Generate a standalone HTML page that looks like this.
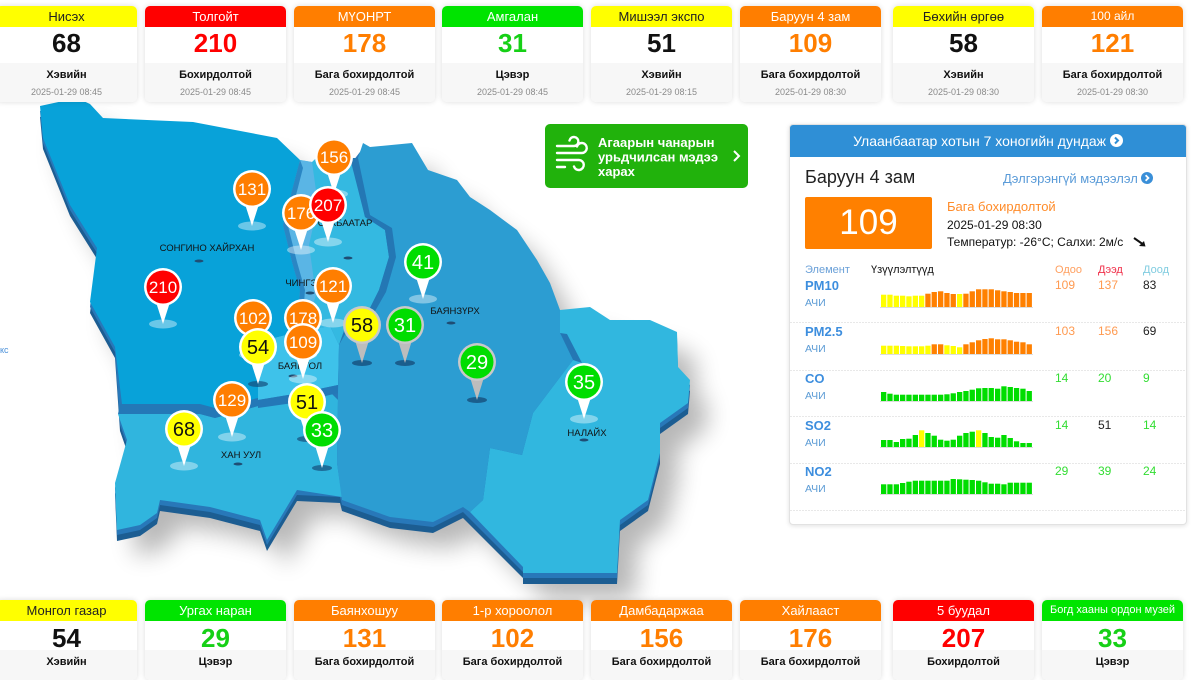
<!DOCTYPE html>
<html><head><meta charset="utf-8">
<style>
*{margin:0;padding:0;box-sizing:border-box}
html,body{width:1200px;height:671px;overflow:hidden;background:#fff;font-family:"Liberation Sans","DejaVu Sans",sans-serif}
.c{position:absolute;width:141px;background:#fff;border-radius:5px;box-shadow:0 0 6px rgba(0,0,0,.14);overflow:hidden}
.c .h{position:absolute;left:0;right:0;top:0;height:21px;line-height:21px;text-align:center;font-size:13px;color:#fff;white-space:nowrap;overflow:hidden}
.c .n{position:absolute;left:0;right:0;text-align:center;font-weight:bold;font-size:26px;line-height:30px}
.c .g{position:absolute;left:0;right:0;bottom:0;background:#f7f7f7}
.c .s{position:absolute;left:0;right:0;text-align:center;font-weight:bold;font-size:11px;line-height:13px;color:#111}
.c .d{position:absolute;left:0;right:0;text-align:center;font-size:9px;line-height:11px;color:#8a8a8a}
.t{top:6px;height:96px}
.t .n{top:22px}.t .g{top:57px}.t .s{top:63px}.t .d{top:81px}
.bt{top:600px;height:80px}
.bt .n{top:23px}.bt .g{top:50px}.bt .s{top:56px}
.Y .h{background:#ffff00;color:#222}.R .h{background:#ff0000}.O .h{background:#ff7e00}.G .h{background:#00e400}
.Y .n{color:#111}.R .n{color:#ff0000}.O .n{color:#ff7e00}.G .n{color:#16d016}
#panel{position:absolute;left:789px;top:124px;width:398px;height:401px;background:#fff;border:1px solid #e2e2e2;border-radius:4px;box-shadow:0 1px 5px rgba(0,0,0,.12);overflow:hidden}
#ph{position:absolute;left:0;top:0;width:100%;height:32px;background:#2f8fd6;color:#fff;font-size:14px;line-height:32px;text-align:center}
.ab{position:absolute;white-space:nowrap}
</style></head><body>

<svg width="1200" height="671" style="position:absolute;left:0;top:0" xmlns="http://www.w3.org/2000/svg">
<defs>
<polygon id="out" points="40,106 77,98 90,104 103,118 193,122 277,138 300,160 312,162 330,145 350,160 363,143 370,147 412,143 428,170 457,180 470,197 490,210 517,230 537,260 550,283 560,310 590,307 610,320 650,320 677,332 678,367 690,380 688,403 660,423 660,453 648,500 620,520 617,573 523,573 523,567 463,507 433,522 390,517 342,500 340,492 297,490 267,540 260,520 210,507 160,500 157,513 140,525 117,530 115,483 127,440 120,420 115,347 90,302 97,248 70,205 43,138"/>
<filter id="blur" x="-20%" y="-20%" width="150%" height="150%"><feGaussianBlur stdDeviation="12"/></filter>
</defs>
<text x="0" y="353" font-size="9" fill="#4a90d9">кс</text>
<use href="#out" transform="translate(18,26)" fill="#000" opacity=".28" filter="url(#blur)"/>
<use href="#out" transform="translate(0,11)" fill="#1c5d92"/>
<use href="#out" transform="translate(0,5)" fill="#2878b9"/>
<!-- Nalaikh -->
<polygon fill="#31b7df" points="560,310 590,307 610,320 650,320 677,332 678,367 690,380 688,403 660,423 660,453 648,500 620,520 617,573 523,573 523,567 470,512 483,500 490,448 522,455 533,413 573,360 560,333"/>
<!-- Khan-Uul -->
<polygon fill="#30b5de" points="118,414 200,414 215,418 258,406 300,400 330,392 338,400 337,463 342,497 297,490 267,540 260,520 210,507 160,500 157,513 140,525 117,530 115,483 127,440 120,420"/>
<!-- Sukhbaatar strip -->
<polygon fill="#34b9e1" points="300,160 312,162 330,145 352,158 365,217 385,230 389,257 379,290 369,310 349,317 339,345 330,326 297,332 300,290 292,262 283,225"/>
<polygon fill="#5ab5e5" points="300,160 312,162 318,205 309,245 316,295 306,326 297,332 300,290 292,262 283,225"/>
<!-- Bayangol -->
<polygon fill="#3ec2ea" points="258,342 297,332 330,326 339,345 338,385 300,393 258,400"/>
<polygon fill="#2478b7" points="258,400 300,393 338,385 338,393 300,402 258,408"/>
<!-- SH -->
<polygon fill="#2478b7" points="120,404 200,404 215,408 258,398 258,406 215,418 200,414 118,414"/>
<polygon fill="#08a2d9" points="40,106 77,98 90,104 103,118 193,122 277,138 300,160 283,225 292,262 300,290 297,332 258,342 258,398 215,408 200,404 122,404 115,347 90,302 97,248 70,205 43,138"/>
<polygon fill="#2a86c4" points="300,160 303,168 288,226 297,262 305,290 302,330 297,332 300,290 292,262 283,225"/>
<!-- Bayanzurkh wall + face -->
<polygon fill="#2477b4" points="350,158 360,158 370,215 392,228 396,257 386,292 374,313 352,322 339,345 349,317 369,310 379,290 389,257 385,230 365,217"/>
<polygon fill="#2477b4" points="560,333 573,360 582,363 567,334"/>
<polygon fill="#2c9dd2" points="358,158 363,143 370,147 412,143 428,170 457,180 470,197 490,210 517,230 537,260 550,283 560,310 560,333 573,360 533,413 522,455 490,448 483,500 470,512 463,507 433,522 390,517 342,500 337,463 338,392 339,345 352,322 374,313 386,292 396,257 392,228 370,215"/>

<!-- labels -->
<g font-size="9.5" fill="#111" text-anchor="middle">
<text x="207" y="251">СОНГИНО ХАЙРХАН</text>
<text x="345" y="226">СҮХБААТАР</text>
<text x="314" y="286">ЧИНГЭЛТЭЙ</text>
<text x="455" y="314">БАЯНЗҮРХ</text>
<text x="300" y="369">БАЯНГОЛ</text>
<text x="241" y="458">ХАН УУЛ</text>
<text x="587" y="436">НАЛАЙХ</text>
</g>
<g fill="#1f4d74">
<ellipse cx="199" cy="261" rx="4.5" ry="1.5"/><ellipse cx="348" cy="258" rx="4.5" ry="1.5"/>
<ellipse cx="310" cy="293" rx="4.5" ry="1.5"/><ellipse cx="451" cy="323" rx="4.5" ry="1.5"/>
<ellipse cx="293" cy="376" rx="4.5" ry="1.5"/><ellipse cx="238" cy="464" rx="4.5" ry="1.5"/>
<ellipse cx="584" cy="440" rx="4.5" ry="1.5"/>
</g>

<!-- pins -->
<g font-family="Liberation Sans, sans-serif" text-anchor="middle">
<g transform="translate(334,157)"><ellipse cy="37" rx="14" ry="4.5" fill="#fff" opacity=".4"/><path d="M-8 12L0 37L8 12Z" fill="#fff"/><circle r="19" fill="#fff"/><circle r="16.5" fill="#ff7e00"/><text y="6" font-size="17" fill="#fff">156</text></g>
<g transform="translate(252,189)"><ellipse cy="37" rx="14" ry="4.5" fill="#fff" opacity=".4"/><path d="M-8 12L0 37L8 12Z" fill="#fff"/><circle r="19" fill="#fff"/><circle r="16.5" fill="#ff7e00"/><text y="6" font-size="17" fill="#fff">131</text></g>
<g transform="translate(301,213)"><ellipse cy="37" rx="14" ry="4.5" fill="#fff" opacity=".4"/><path d="M-8 12L0 37L8 12Z" fill="#fff"/><circle r="19" fill="#fff"/><circle r="16.5" fill="#ff7e00"/><text y="6" font-size="17" fill="#fff">176</text></g>
<g transform="translate(328,205)"><ellipse cy="37" rx="14" ry="4.5" fill="#fff" opacity=".4"/><path d="M-8 12L0 37L8 12Z" fill="#fff"/><circle r="19" fill="#fff"/><circle r="16.5" fill="#ff0000"/><text y="6" font-size="17" fill="#fff">207</text></g>
<g transform="translate(423,262)"><ellipse cy="37" rx="14" ry="4.5" fill="#fff" opacity=".4"/><path d="M-8 12L0 37L8 12Z" fill="#fff"/><circle r="19" fill="#fff"/><circle r="16.5" fill="#00dd00"/><text y="7" font-size="20" fill="#fff">41</text></g>
<g transform="translate(163,287)"><ellipse cy="37" rx="14" ry="4.5" fill="#fff" opacity=".4"/><path d="M-8 12L0 37L8 12Z" fill="#fff"/><circle r="19" fill="#fff"/><circle r="16.5" fill="#ff0000"/><text y="6" font-size="17" fill="#fff">210</text></g>
<g transform="translate(333,286)"><ellipse cy="37" rx="14" ry="4.5" fill="#fff" opacity=".4"/><path d="M-8 12L0 37L8 12Z" fill="#fff"/><circle r="19" fill="#fff"/><circle r="16.5" fill="#ff7e00"/><text y="6" font-size="17" fill="#fff">121</text></g>
<g transform="translate(253,318)"><ellipse cy="37" rx="14" ry="4.5" fill="#fff" opacity=".4"/><path d="M-8 12L0 37L8 12Z" fill="#fff"/><circle r="19" fill="#fff"/><circle r="16.5" fill="#ff7e00"/><text y="6" font-size="17" fill="#fff">102</text></g>
<g transform="translate(303,318)"><ellipse cy="37" rx="14" ry="4.5" fill="#fff" opacity=".4"/><path d="M-8 12L0 37L8 12Z" fill="#fff"/><circle r="19" fill="#fff"/><circle r="16.5" fill="#ff7e00"/><text y="6" font-size="17" fill="#fff">178</text></g>
<g transform="translate(362,325)"><ellipse cy="38" rx="10" ry="3" fill="#164f7c" opacity=".8"/><path d="M-8 12L0 38L8 12Z" fill="#bdbdbd"/><circle r="19" fill="#c9c9c9"/><circle r="16.5" fill="#ffff00"/><text y="7" font-size="20" fill="#111">58</text></g>
<g transform="translate(405,325)"><ellipse cy="38" rx="10" ry="3" fill="#164f7c" opacity=".8"/><path d="M-8 12L0 38L8 12Z" fill="#bdbdbd"/><circle r="19" fill="#c9c9c9"/><circle r="16.5" fill="#00dd00"/><text y="7" font-size="20" fill="#fff">31</text></g>
<g transform="translate(303,342)"><ellipse cy="37" rx="14" ry="4.5" fill="#fff" opacity=".4"/><path d="M-8 12L0 37L8 12Z" fill="#fff"/><circle r="19" fill="#fff"/><circle r="16.5" fill="#ff7e00"/><text y="6" font-size="17" fill="#fff">109</text></g>
<g transform="translate(258,347)"><ellipse cy="37" rx="10" ry="3" fill="#164f7c" opacity=".7"/><path d="M-8 12L0 37L8 12Z" fill="#fff"/><circle r="19" fill="#fff"/><circle r="16.5" fill="#ffff00"/><text y="7" font-size="20" fill="#111">54</text></g>
<g transform="translate(477,362)"><ellipse cy="38" rx="10" ry="3" fill="#164f7c" opacity=".8"/><path d="M-8 12L0 38L8 12Z" fill="#bdbdbd"/><circle r="19" fill="#c9c9c9"/><circle r="16.5" fill="#00dd00"/><text y="7" font-size="20" fill="#fff">29</text></g>
<g transform="translate(584,382)"><ellipse cy="37" rx="14" ry="4.5" fill="#fff" opacity=".4"/><path d="M-8 12L0 37L8 12Z" fill="#fff"/><circle r="19" fill="#fff"/><circle r="16.5" fill="#00dd00"/><text y="7" font-size="20" fill="#fff">35</text></g>
<g transform="translate(232,400)"><ellipse cy="37" rx="14" ry="4.5" fill="#fff" opacity=".4"/><path d="M-8 12L0 37L8 12Z" fill="#fff"/><circle r="19" fill="#fff"/><circle r="16.5" fill="#ff7e00"/><text y="6" font-size="17" fill="#fff">129</text></g>
<g transform="translate(307,402)"><ellipse cy="37" rx="10" ry="3" fill="#164f7c" opacity=".7"/><path d="M-8 12L0 37L8 12Z" fill="#fff"/><circle r="19" fill="#fff"/><circle r="16.5" fill="#ffff00"/><text y="7" font-size="20" fill="#111">51</text></g>
<g transform="translate(184,429)"><ellipse cy="37" rx="14" ry="4.5" fill="#fff" opacity=".4"/><path d="M-8 12L0 37L8 12Z" fill="#fff"/><circle r="19" fill="#fff"/><circle r="16.5" fill="#ffff00"/><text y="7" font-size="20" fill="#111">68</text></g>
<g transform="translate(322,430)"><ellipse cy="38" rx="10" ry="3" fill="#164f7c" opacity=".7"/><path d="M-8 12L0 38L8 12Z" fill="#fff"/><circle r="19" fill="#fff"/><circle r="16.5" fill="#00dd00"/><text y="7" font-size="20" fill="#fff">33</text></g>
</g>

<!-- green button -->
<rect x="545" y="124" width="203" height="64" rx="5" fill="#21b20c"/>
<path d="M557 146h17a4.5 4.5 0 1 0-4.5-5.5 M557 153h25a5 5 0 1 0-5-6.5 M557 160h22a5 5 0 1 1-5 6.5 M557 167h8" stroke="#fff" stroke-width="2.4" fill="none" stroke-linecap="round"/>
<g fill="#fff" font-weight="bold" font-size="13">
<text x="598" y="147">Агаарын чанарын</text>
<text x="598" y="161.5">урьдчилсан мэдээ</text>
<text x="598" y="176">харах</text>
</g>
<path d="M734 151l5 5-5 5" stroke="#fff" stroke-width="2" fill="none"/>
</svg>

<!-- top cards -->
<div class="c t Y" style="left:-4px"><div class="h">Нисэх</div><div class="n">68</div><div class="g"></div><div class="s">Хэвийн</div><div class="d">2025-01-29 08:45</div></div>
<div class="c t R" style="left:145px"><div class="h">Толгойт</div><div class="n">210</div><div class="g"></div><div class="s">Бохирдолтой</div><div class="d">2025-01-29 08:45</div></div>
<div class="c t O" style="left:294px"><div class="h">МҮОНРТ</div><div class="n">178</div><div class="g"></div><div class="s">Бага бохирдолтой</div><div class="d">2025-01-29 08:45</div></div>
<div class="c t G" style="left:442px"><div class="h">Амгалан</div><div class="n">31</div><div class="g"></div><div class="s">Цэвэр</div><div class="d">2025-01-29 08:45</div></div>
<div class="c t Y" style="left:591px"><div class="h">Мишээл экспо</div><div class="n">51</div><div class="g"></div><div class="s">Хэвийн</div><div class="d">2025-01-29 08:15</div></div>
<div class="c t O" style="left:740px"><div class="h">Баруун 4 зам</div><div class="n">109</div><div class="g"></div><div class="s">Бага бохирдолтой</div><div class="d">2025-01-29 08:30</div></div>
<div class="c t Y" style="left:893px"><div class="h">Бөхийн өргөө</div><div class="n">58</div><div class="g"></div><div class="s">Хэвийн</div><div class="d">2025-01-29 08:30</div></div>
<div class="c t O" style="left:1042px"><div class="h" style="font-size:12px">100 айл</div><div class="n">121</div><div class="g"></div><div class="s">Бага бохирдолтой</div><div class="d">2025-01-29 08:30</div></div>

<!-- bottom cards -->
<div class="c bt Y" style="left:-4px"><div class="h">Монгол газар</div><div class="n">54</div><div class="g"></div><div class="s">Хэвийн</div></div>
<div class="c bt G" style="left:145px"><div class="h">Ургах наран</div><div class="n">29</div><div class="g"></div><div class="s">Цэвэр</div></div>
<div class="c bt O" style="left:294px"><div class="h">Баянхошуу</div><div class="n">131</div><div class="g"></div><div class="s">Бага бохирдолтой</div></div>
<div class="c bt O" style="left:442px"><div class="h">1-р хороолол</div><div class="n">102</div><div class="g"></div><div class="s">Бага бохирдолтой</div></div>
<div class="c bt O" style="left:591px"><div class="h">Дамбадаржаа</div><div class="n">156</div><div class="g"></div><div class="s">Бага бохирдолтой</div></div>
<div class="c bt O" style="left:740px"><div class="h">Хайлааст</div><div class="n">176</div><div class="g"></div><div class="s">Бага бохирдолтой</div></div>
<div class="c bt R" style="left:893px"><div class="h">5 буудал</div><div class="n">207</div><div class="g"></div><div class="s">Бохирдолтой</div></div>
<div class="c bt G" style="left:1042px"><div class="h" style="font-size:11px">Богд хааны ордон музей</div><div class="n">33</div><div class="g"></div><div class="s">Цэвэр</div></div>

<!-- right panel -->
<div id="panel">
<div id="ph">Улаанбаатар хотын 7 хоногийн дундаж <svg width="13" height="13" viewBox="0 0 13 13" style="vertical-align:-1px"><circle cx="6.5" cy="6.5" r="6.5" fill="#fff"/><path d="M5 3.5l3 3-3 3" stroke="#2f8fd6" stroke-width="2" fill="none"/></svg></div>
<div class="ab" style="left:15px;top:40px;font-size:18px;color:#222;line-height:24px">Баруун 4 зам</div>
<div class="ab" style="left:213px;top:46px;font-size:13px;color:#5a9bd8;line-height:16px">Дэлгэрэнгүй мэдээлэл <svg width="12" height="12" viewBox="0 0 13 13" style="vertical-align:-1px"><circle cx="6.5" cy="6.5" r="6.5" fill="#3a8fd8"/><path d="M5 3.5l3 3-3 3" stroke="#fff" stroke-width="2" fill="none"/></svg></div>
<div class="ab" style="left:15px;top:72px;width:127px;height:52px;background:#ff8000;border-radius:2px;color:#fff;font-size:35px;line-height:52px;text-align:center">109</div>
<div class="ab" style="left:157px;top:74px;font-size:13px;color:#ff8c2a;line-height:16px">Бага бохирдолтой</div>
<div class="ab" style="left:157px;top:93px;font-size:12px;color:#111;line-height:15px">2025-01-29 08:30</div>
<div class="ab" style="left:157px;top:110px;font-size:12px;color:#111;line-height:15px">Температур: -26°C; Салхи: 2м/с</div>
<svg class="ab" style="left:343px;top:111px" width="14" height="12" viewBox="0 0 14 12"><path d="M1 2L11 9" stroke="#111" stroke-width="2" fill="none"/><path d="M12.5 10.5L6 10L11 5Z" fill="#111"/></svg>

<div class="ab" style="left:15px;top:139px;font-size:11px;color:#6aa0d8">Элемент</div>
<div class="ab" style="left:81px;top:139px;font-size:11px;color:#111">Үзүүлэлтүүд</div>
<div class="ab" style="left:265px;top:139px;font-size:11px;color:#ffa060">Одоо</div>
<div class="ab" style="left:308px;top:139px;font-size:11px;color:#f0304a">Дээд</div>
<div class="ab" style="left:353px;top:139px;font-size:11px;color:#80cce0">Доод</div>

<div class="ab" style="left:15px;top:153px;font-size:13px;font-weight:bold;color:#3d8ede">PM10</div>
<div class="ab" style="left:15px;top:172px;font-size:10.5px;color:#5b9bd5">АЧИ</div>
<div class="ab" style="left:265px;top:153px;font-size:12px;color:#ff9a50">109</div>
<div class="ab" style="left:308px;top:153px;font-size:12px;color:#ff9a50">137</div>
<div class="ab" style="left:353px;top:153px;font-size:12px;color:#222">83</div>

<div class="ab" style="left:15px;top:199px;font-size:13px;font-weight:bold;color:#3d8ede">PM2.5</div>
<div class="ab" style="left:15px;top:218px;font-size:10.5px;color:#5b9bd5">АЧИ</div>
<div class="ab" style="left:265px;top:199px;font-size:12px;color:#ff9a50">103</div>
<div class="ab" style="left:308px;top:199px;font-size:12px;color:#ff9a50">156</div>
<div class="ab" style="left:353px;top:199px;font-size:12px;color:#222">69</div>

<div class="ab" style="left:15px;top:246px;font-size:13px;font-weight:bold;color:#3d8ede">CO</div>
<div class="ab" style="left:15px;top:265px;font-size:10.5px;color:#5b9bd5">АЧИ</div>
<div class="ab" style="left:265px;top:246px;font-size:12px;color:#33dd33">14</div>
<div class="ab" style="left:308px;top:246px;font-size:12px;color:#33dd33">20</div>
<div class="ab" style="left:353px;top:246px;font-size:12px;color:#33dd33">9</div>

<div class="ab" style="left:15px;top:293px;font-size:13px;font-weight:bold;color:#3d8ede">SO2</div>
<div class="ab" style="left:15px;top:312px;font-size:10.5px;color:#5b9bd5">АЧИ</div>
<div class="ab" style="left:265px;top:293px;font-size:12px;color:#33dd33">14</div>
<div class="ab" style="left:308px;top:293px;font-size:12px;color:#222">51</div>
<div class="ab" style="left:353px;top:293px;font-size:12px;color:#33dd33">14</div>

<div class="ab" style="left:15px;top:339px;font-size:13px;font-weight:bold;color:#3d8ede">NO2</div>
<div class="ab" style="left:15px;top:358px;font-size:10.5px;color:#5b9bd5">АЧИ</div>
<div class="ab" style="left:265px;top:339px;font-size:12px;color:#33dd33">29</div>
<div class="ab" style="left:308px;top:339px;font-size:12px;color:#33dd33">39</div>
<div class="ab" style="left:353px;top:339px;font-size:12px;color:#33dd33">24</div>
</div>

<svg width="1200" height="671" style="position:absolute;left:0;top:0;pointer-events:none" xmlns="http://www.w3.org/2000/svg">
<style>.y{fill:#ffff00}.o{fill:#ff8000}.e{fill:#00dd00}</style>
<g stroke="#e8e8e8" stroke-dasharray="2,1">
<line x1="790" y1="322.5" x2="1186" y2="322.5"/><line x1="790" y1="370.5" x2="1186" y2="370.5"/>
<line x1="790" y1="416.5" x2="1186" y2="416.5"/><line x1="790" y1="463.5" x2="1186" y2="463.5"/>
<line x1="790" y1="510.5" x2="1186" y2="510.5"/>
</g>
<g fill="#ddd"><rect x="880" y="307" width="153" height="1"/><rect x="880" y="354" width="153" height="1"/><rect x="880" y="401" width="153" height="1"/><rect x="880" y="447" width="153" height="1"/><rect x="880" y="494" width="153" height="1"/></g>
<!-- PM10 -->
<g transform="translate(0,307)">
<rect class="y" x="881" y="-12.3" width="5.3" height="12.3"/><rect class="y" x="887.3" y="-12.3" width="5.3" height="12.3"/><rect class="y" x="893.7" y="-11.3" width="5.3" height="11.3"/><rect class="y" x="900" y="-11.3" width="5.3" height="11.3"/><rect class="y" x="906.3" y="-10.7" width="5.3" height="10.7"/><rect class="y" x="912.7" y="-11.3" width="5.3" height="11.3"/><rect class="y" x="919" y="-11.3" width="5.3" height="11.3"/>
<rect class="o" x="925.3" y="-13.3" width="5.3" height="13.3"/><rect class="o" x="931.6" y="-15" width="5.3" height="15"/><rect class="o" x="938" y="-15.7" width="5.3" height="15.7"/><rect class="o" x="944.3" y="-14" width="5.3" height="14"/><rect class="o" x="950.6" y="-13" width="5.3" height="13"/>
<rect class="y" x="957" y="-13" width="5.3" height="13"/>
<rect class="o" x="963.3" y="-13.3" width="5.3" height="13.3"/><rect class="o" x="969.6" y="-15.7" width="5.3" height="15.7"/><rect class="o" x="976" y="-17.7" width="5.3" height="17.7"/><rect class="o" x="982.3" y="-17.7" width="5.3" height="17.7"/><rect class="o" x="988.6" y="-17.7" width="5.3" height="17.7"/><rect class="o" x="995" y="-16.7" width="5.3" height="16.7"/><rect class="o" x="1001.3" y="-15.7" width="5.3" height="15.7"/><rect class="o" x="1007.6" y="-15" width="5.3" height="15"/><rect class="o" x="1013.9" y="-14" width="5.3" height="14"/><rect class="o" x="1020.3" y="-14" width="5.3" height="14"/><rect class="o" x="1026.6" y="-14" width="5.3" height="14"/>
</g>
<!-- PM2.5 -->
<g transform="translate(0,354)">
<rect class="y" x="881" y="-8.3" width="5.3" height="8.3"/><rect class="y" x="887.3" y="-8.3" width="5.3" height="8.3"/><rect class="y" x="893.7" y="-8.3" width="5.3" height="8.3"/><rect class="y" x="900" y="-8" width="5.3" height="8"/><rect class="y" x="906.3" y="-7.7" width="5.3" height="7.7"/><rect class="y" x="912.7" y="-7.7" width="5.3" height="7.7"/><rect class="y" x="919" y="-7.7" width="5.3" height="7.7"/><rect class="y" x="925.3" y="-8.3" width="5.3" height="8.3"/>
<rect class="o" x="931.6" y="-9.7" width="5.3" height="9.7"/><rect class="o" x="938" y="-9.7" width="5.3" height="9.7"/>
<rect class="y" x="944.3" y="-8.7" width="5.3" height="8.7"/><rect class="y" x="950.6" y="-8" width="5.3" height="8"/><rect class="y" x="957" y="-6.7" width="5.3" height="6.7"/>
<rect class="o" x="963.3" y="-9.7" width="5.3" height="9.7"/><rect class="o" x="969.6" y="-11.7" width="5.3" height="11.7"/><rect class="o" x="976" y="-13.7" width="5.3" height="13.7"/><rect class="o" x="982.3" y="-15" width="5.3" height="15"/><rect class="o" x="988.6" y="-15.7" width="5.3" height="15.7"/><rect class="o" x="995" y="-14.7" width="5.3" height="14.7"/><rect class="o" x="1001.3" y="-14.7" width="5.3" height="14.7"/><rect class="o" x="1007.6" y="-13.7" width="5.3" height="13.7"/><rect class="o" x="1013.9" y="-12.3" width="5.3" height="12.3"/><rect class="o" x="1020.3" y="-11.7" width="5.3" height="11.7"/><rect class="o" x="1026.6" y="-9.7" width="5.3" height="9.7"/>
</g>
<!-- CO -->
<g transform="translate(0,401)" class="e">
<rect x="881" y="-9" width="5.3" height="9"/><rect x="887.3" y="-7.3" width="5.3" height="7.3"/><rect x="893.7" y="-6.3" width="5.3" height="6.3"/><rect x="900" y="-6.3" width="5.3" height="6.3"/><rect x="906.3" y="-6.3" width="5.3" height="6.3"/><rect x="912.7" y="-6.3" width="5.3" height="6.3"/><rect x="919" y="-6.3" width="5.3" height="6.3"/><rect x="925.3" y="-6.3" width="5.3" height="6.3"/><rect x="931.6" y="-6.3" width="5.3" height="6.3"/><rect x="938" y="-6.3" width="5.3" height="6.3"/><rect x="944.3" y="-6.7" width="5.3" height="6.7"/><rect x="950.6" y="-7.7" width="5.3" height="7.7"/><rect x="957" y="-9" width="5.3" height="9"/><rect x="963.3" y="-10" width="5.3" height="10"/><rect x="969.6" y="-11.3" width="5.3" height="11.3"/><rect x="976" y="-12.7" width="5.3" height="12.7"/><rect x="982.3" y="-13" width="5.3" height="13"/><rect x="988.6" y="-13" width="5.3" height="13"/><rect x="995" y="-12.3" width="5.3" height="12.3"/><rect x="1001.3" y="-14.7" width="5.3" height="14.7"/><rect x="1007.6" y="-14" width="5.3" height="14"/><rect x="1013.9" y="-13" width="5.3" height="13"/><rect x="1020.3" y="-12.3" width="5.3" height="12.3"/><rect x="1026.6" y="-10" width="5.3" height="10"/>
</g>
<!-- SO2 -->
<g transform="translate(0,447)">
<rect class="e" x="881" y="-7" width="5.3" height="7"/><rect class="e" x="887.3" y="-7" width="5.3" height="7"/><rect class="e" x="893.7" y="-5" width="5.3" height="5"/><rect class="e" x="900" y="-8" width="5.3" height="8"/><rect class="e" x="906.3" y="-8.3" width="5.3" height="8.3"/><rect class="e" x="912.7" y="-12" width="5.3" height="12"/><rect class="y" x="919" y="-16.7" width="5.3" height="16.7"/><rect class="e" x="925.3" y="-14" width="5.3" height="14"/><rect class="e" x="931.6" y="-11.3" width="5.3" height="11.3"/><rect class="e" x="938" y="-7.3" width="5.3" height="7.3"/><rect class="e" x="944.3" y="-6.3" width="5.3" height="6.3"/><rect class="e" x="950.6" y="-7.3" width="5.3" height="7.3"/><rect class="e" x="957" y="-11.3" width="5.3" height="11.3"/><rect class="e" x="963.3" y="-14" width="5.3" height="14"/><rect class="e" x="969.6" y="-15.3" width="5.3" height="15.3"/><rect class="y" x="976" y="-16.7" width="5.3" height="16.7"/><rect class="e" x="982.3" y="-14" width="5.3" height="14"/><rect class="e" x="988.6" y="-10" width="5.3" height="10"/><rect class="e" x="995" y="-9.3" width="5.3" height="9.3"/><rect class="e" x="1001.3" y="-12" width="5.3" height="12"/><rect class="e" x="1007.6" y="-9" width="5.3" height="9"/><rect class="e" x="1013.9" y="-5.7" width="5.3" height="5.7"/><rect class="e" x="1020.3" y="-4" width="5.3" height="4"/><rect class="e" x="1026.6" y="-4" width="5.3" height="4"/>
</g>
<!-- NO2 -->
<g transform="translate(0,494)" class="e">
<rect x="881" y="-9.7" width="5.3" height="9.7"/><rect x="887.3" y="-9.7" width="5.3" height="9.7"/><rect x="893.7" y="-9.7" width="5.3" height="9.7"/><rect x="900" y="-11" width="5.3" height="11"/><rect x="906.3" y="-12.3" width="5.3" height="12.3"/><rect x="912.7" y="-13.3" width="5.3" height="13.3"/><rect x="919" y="-13.3" width="5.3" height="13.3"/><rect x="925.3" y="-13.3" width="5.3" height="13.3"/><rect x="931.6" y="-13.3" width="5.3" height="13.3"/><rect x="938" y="-13.3" width="5.3" height="13.3"/><rect x="944.3" y="-13.3" width="5.3" height="13.3"/><rect x="950.6" y="-15" width="5.3" height="15"/><rect x="957" y="-14.7" width="5.3" height="14.7"/><rect x="963.3" y="-14.3" width="5.3" height="14.3"/><rect x="969.6" y="-14" width="5.3" height="14"/><rect x="976" y="-13.3" width="5.3" height="13.3"/><rect x="982.3" y="-11.7" width="5.3" height="11.7"/><rect x="988.6" y="-10.3" width="5.3" height="10.3"/><rect x="995" y="-10.3" width="5.3" height="10.3"/><rect x="1001.3" y="-9.7" width="5.3" height="9.7"/><rect x="1007.6" y="-11.3" width="5.3" height="11.3"/><rect x="1013.9" y="-11.3" width="5.3" height="11.3"/><rect x="1020.3" y="-11.3" width="5.3" height="11.3"/><rect x="1026.6" y="-11.3" width="5.3" height="11.3"/>
</g>
</svg>
</body></html>
